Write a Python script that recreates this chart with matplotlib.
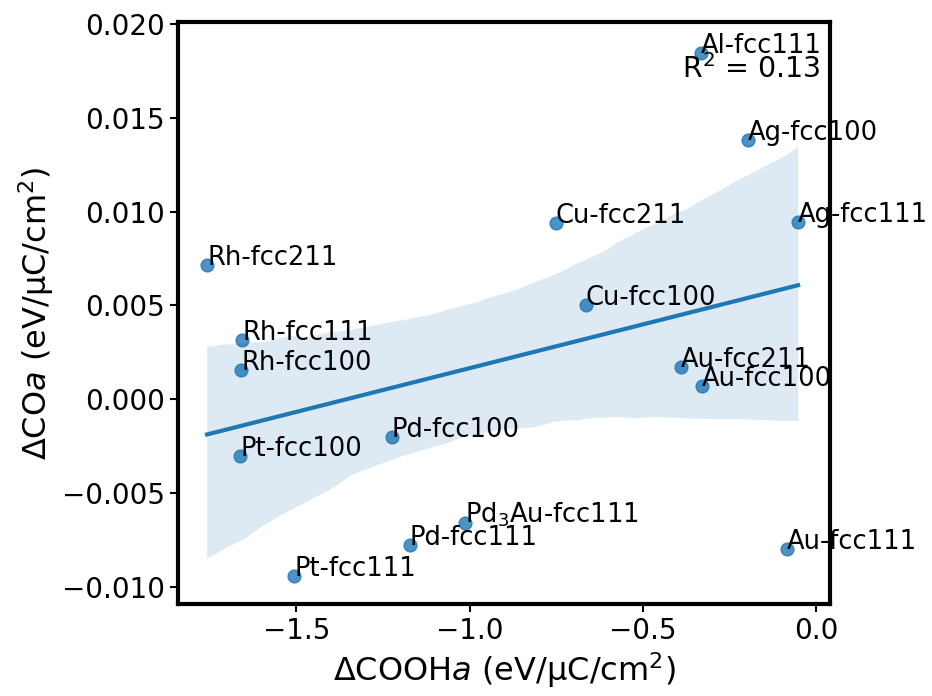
import numpy as np
import pandas as pd
import matplotlib
matplotlib.use('Agg')
import matplotlib.pyplot as plt
import seaborn as sns

# surface labels and values
labels = ['Al-fcc111', 'Ag-fcc100', 'Ag-fcc111', 'Cu-fcc211', 'Rh-fcc211',
          'Cu-fcc100', 'Rh-fcc111', 'Rh-fcc100', 'Au-fcc211', 'Au-fcc100',
          'Pd-fcc100', 'Pt-fcc100', 'Pd$_3$Au-fcc111', 'Pd-fcc111',
          'Pt-fcc111', 'Au-fcc111']
d_cooh = [-0.332, -0.197, -0.052, -0.751, -1.757, -0.665, -1.656, -1.659,
          -0.390, -0.329, -1.225, -1.662, -1.012, -1.173, -1.506, -0.084]
d_co = [0.01847, 0.0138, 0.00945, 0.0094, 0.00717, 0.00504, 0.00318, 0.00159,
        0.00175, 0.00069, -0.00202, -0.00303, -0.00658, -0.00775, -0.0094, -0.00796]
r2 = 0.13

df = pd.DataFrame({'x': d_cooh, 'y': d_co})

fig = plt.figure(figsize=(9.32, 6.96), dpi=100)
ax = fig.add_axes([178/932, 1-604/696, (830-178)/932, (604-22)/696])

sns.regplot(data=df, x='x', y='y', ax=ax, seed=0,
            scatter_kws={'s': 85}, line_kws={'linewidth': 3})

for lab, xx, yy in zip(labels, d_cooh, d_co):
    ax.text(xx, yy, lab, fontsize=18.5)

ax.text(0.985, 0.903, 'R$^2$ = %.2f' % r2, transform=ax.transAxes,
        ha='right', fontsize=20.5)

ax.set_xlim(-1.841, 0.04)
ax.set_ylim(-0.0109, 0.0201)
ax.set_yticks([-0.010, -0.005, 0.000, 0.005, 0.010, 0.015, 0.020])
ax.set_xticks([-1.5, -1.0, -0.5, 0.0])
ax.set_xlabel(r'$\Delta$COOH$a$ (eV/μC/cm$^2$)', fontsize=23)
ax.set_ylabel(r'$\Delta$CO$a$ (eV/μC/cm$^2$)', fontsize=23)
ax.tick_params(labelsize=20, width=1.5, length=6, color='black')
for sp in ax.spines.values():
    sp.set_linewidth(3)
    sp.set_color('black')

fig.savefig('out.png', dpi=100)
